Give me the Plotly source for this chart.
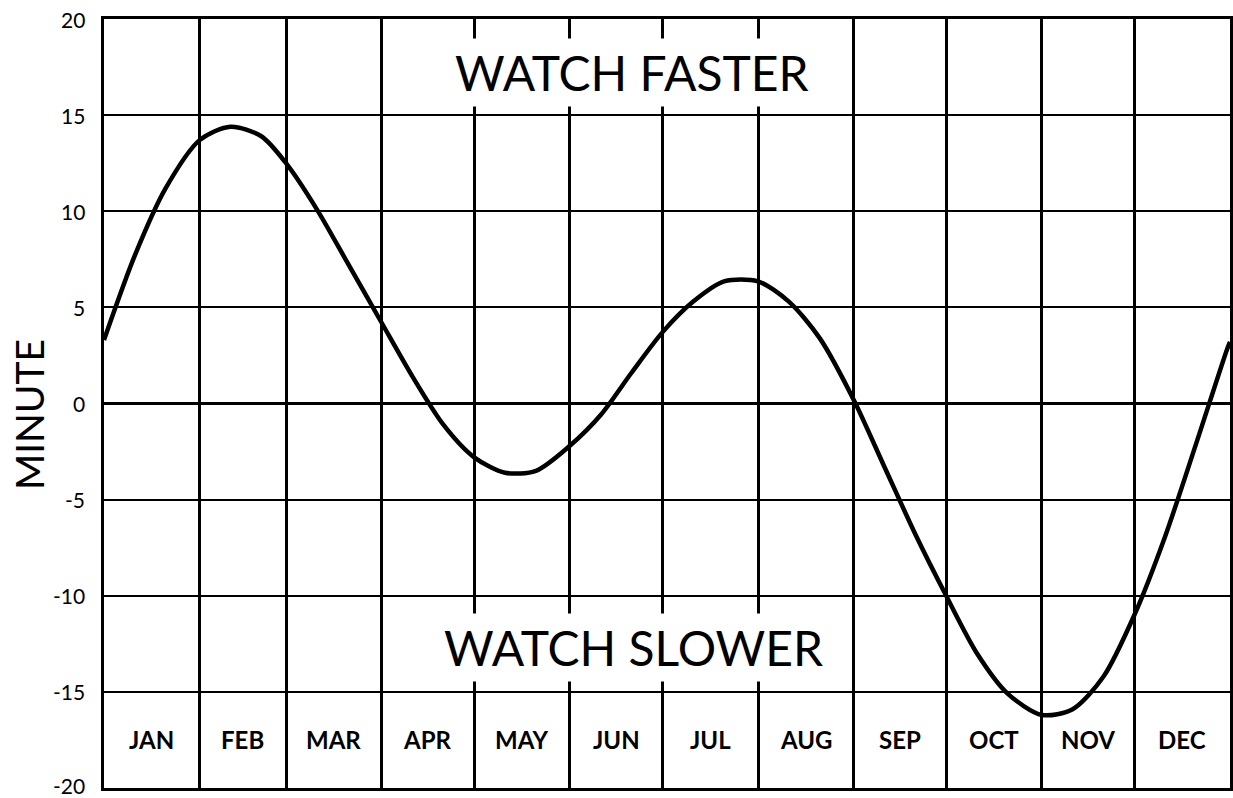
import plotly.graph_objects as go

# Day of year (0 = Jan 1) and offset in minutes, read at the 1st, 11th and 21st of each month
days = [0, 10, 20, 31, 41, 51, 59, 69, 79, 90, 100, 110, 120, 130, 140, 151, 161, 171,
        181, 191, 201, 212, 222, 232, 243, 253, 263, 273, 283, 293, 304, 314, 324,
        334, 344, 354, 364, 365]
minutes = [3.3, 7.7, 11.2, 13.7, 14.4, 13.9, 12.5, 10.1, 7.3, 4.2, 1.4, -1.1, -2.8,
           -3.6, -3.5, -2.2, -0.6, 1.6, 3.7, 5.3, 6.35, 6.35, 5.3, 3.4, 0.2, -3.3,
           -6.8, -10.0, -13.0, -15.1, -16.2, -15.9, -14.2, -11.0, -6.9, -2.1, 2.8, 3.2]

months = ["JAN", "FEB", "MAR", "APR", "MAY", "JUN", "JUL", "AUG", "SEP", "OCT", "NOV", "DEC"]
month_days = [31, 28, 31, 30, 31, 30, 31, 31, 30, 31, 30, 31]
y_ticks = [-20, -15, -10, -5, 0, 5, 10, 15, 20]

boundaries = [0]
for d in month_days:
    boundaries.append(boundaries[-1] + d)
mids = [(boundaries[i] + boundaries[i + 1]) / 2 for i in range(12)]

fig = go.Figure()
fig.add_trace(go.Scatter(
    x=days, y=minutes, mode="lines",
    line=dict(color="black", width=4.5, shape="spline", smoothing=0.8),
    hoverinfo="skip", showlegend=False,
))

annotations = []
for m, x in zip(months, mids):
    annotations.append(dict(
        x=x, y=-17.5, xref="x", yref="y", text=m, showarrow=False,
        font=dict(family="Lato", size=24, color="black", weight="bold"),
    ))
# y tick labels as annotations so the end labels (20 / -20) are not dropped
for v in y_ticks:
    annotations.append(dict(
        x=0, y=v, xref="paper", yref="y", text=str(v), showarrow=False,
        xanchor="right", yanchor="middle", xshift=-18, yshift=3 if v == -20 else 0,
        borderpad=0, font=dict(family="Lato", size=21, color="black"),
    ))
annotations.append(dict(
    x=0.469, y=17.2, xref="paper", yref="y", text="WATCH FASTER", showarrow=False,
    font=dict(family="Lato", size=48, color="black"), bgcolor="white", borderpad=5,
))
annotations.append(dict(
    x=0.47, y=-12.7, xref="paper", yref="y", text="WATCH SLOWER", showarrow=False,
    font=dict(family="Lato", size=48, color="black"), bgcolor="white", borderpad=5,
))
annotations.append(dict(
    x=0, y=-0.6, xref="paper", yref="y", text="MINUTE", showarrow=False,
    textangle=-90, xanchor="center", xshift=-75,
    font=dict(family="Lato", size=39, color="black"),
))

fig.update_layout(
    width=1233, height=798,
    margin=dict(l=104, r=3, t=19, b=10),
    paper_bgcolor="white", plot_bgcolor="white",
    annotations=annotations,
    xaxis=dict(
        range=[0, 365], tickvals=boundaries, showticklabels=False,
        showgrid=True, gridcolor="black", gridwidth=3,
        showline=True, linecolor="black", linewidth=3, mirror=True,
        zeroline=False, ticks="", automargin=False,
    ),
    yaxis=dict(
        range=[-20, 20], tickvals=y_ticks, showticklabels=False,
        showgrid=True, gridcolor="black", gridwidth=2,
        zeroline=True, zerolinecolor="black", zerolinewidth=3,
        showline=True, linecolor="black", linewidth=3, mirror=True,
        ticks="", automargin=False,
    ),
)

# Remove the browser's default 8px body margin so the figure fills the window exactly
fig.write_html("out.html", config={"displayModeBar": False},
               post_script="document.body.style.margin='0';")
